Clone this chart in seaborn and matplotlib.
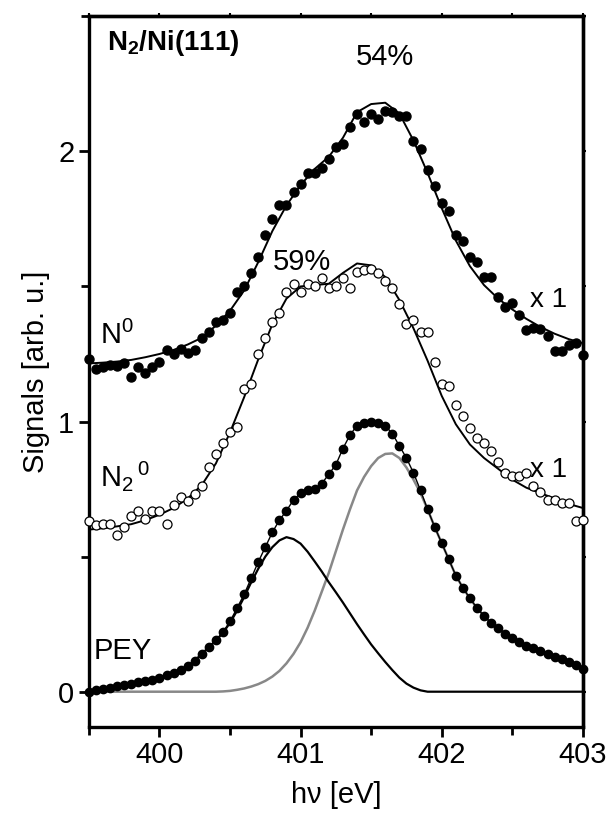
import numpy as np
import pandas as pd
import seaborn as sns
import matplotlib.pyplot as plt
from matplotlib.ticker import MultipleLocator

sns.set_style("ticks")
plt.rcParams['font.family'] = ['Liberation Sans', 'DejaVu Sans']
plt.rcParams['mathtext.fontset'] = 'custom'
plt.rcParams['mathtext.rm'] = 'Liberation Sans'
plt.rcParams['mathtext.bf'] = 'Liberation Sans:bold'
for k in ['text.color', 'axes.labelcolor', 'xtick.color', 'ytick.color', 'axes.edgecolor']:
    plt.rcParams[k] = 'black'

# photon energy grid of the measured points [eV]
energy = [399.50, 399.55, 399.60, 399.65, 399.70, 399.75, 399.80, 399.85, 399.90, 399.95,
          400.00, 400.05, 400.10, 400.15, 400.20, 400.25, 400.30, 400.35, 400.40, 400.45,
          400.50, 400.55, 400.60, 400.65, 400.70, 400.75, 400.80, 400.85, 400.90, 400.95,
          401.00, 401.05, 401.10, 401.15, 401.20, 401.25, 401.30, 401.35, 401.40, 401.45,
          401.50, 401.55, 401.60, 401.65, 401.70, 401.75, 401.80, 401.85, 401.90, 401.95,
          402.00, 402.05, 402.10, 402.15, 402.20, 402.25, 402.30, 402.35, 402.40, 402.45,
          402.50, 402.55, 402.60, 402.65, 402.70, 402.75, 402.80, 402.85, 402.90, 402.95,
          403.00]

n0_signal = [1.23, 1.195, 1.20, 1.21, 1.205, 1.217, 1.165, 1.20, 1.18, 1.20,
             1.22, 1.265, 1.25, 1.27, 1.255, 1.265, 1.31, 1.33, 1.37, 1.377,
             1.40, 1.48, 1.50, 1.55, 1.61, 1.69, 1.75, 1.80, 1.80, 1.85,
             1.88, 1.92, 1.92, 1.94, 1.97, 2.015, 2.026, 2.09, 2.14, 2.11,
             2.14, 2.12, 2.15, 2.145, 2.13, 2.13, 2.04, 2.01, 1.93, 1.87,
             1.81, 1.78, 1.69, 1.67, 1.61, 1.59, 1.535, 1.535, 1.46, 1.425,
             1.44, 1.395, 1.34, 1.347, 1.343, 1.315, 1.26, 1.26, 1.285, 1.29,
             1.245]

n2_signal = [0.63, 0.616, 0.62, 0.62, 0.58, 0.61, 0.65, 0.67, 0.64, 0.67,
             0.67, 0.62, 0.69, 0.72, 0.705, 0.73, 0.76, 0.83, 0.88, 0.92,
             0.96, 0.98, 1.12, 1.14, 1.25, 1.31, 1.37, 1.40, 1.48, 1.51,
             1.48, 1.51, 1.50, 1.53, 1.495, 1.50, 1.53, 1.495, 1.555, 1.56,
             1.565, 1.55, 1.52, 1.495, 1.435, 1.36, 1.375, 1.33, 1.33, 1.22,
             1.14, 1.13, 1.06, 1.02, 0.975, 0.94, 0.92, 0.89, 0.85, 0.81,
             0.80, 0.80, 0.81, 0.76, 0.74, 0.71, 0.71, 0.70, 0.70, 0.63,
             0.635]

pey_signal = [0.0, 0.005, 0.01, 0.015, 0.02, 0.025, 0.03, 0.035, 0.04, 0.045,
              0.052, 0.06, 0.07, 0.082, 0.095, 0.115, 0.14, 0.165, 0.19, 0.22,
              0.26, 0.31, 0.36, 0.42, 0.48, 0.535, 0.59, 0.635, 0.67, 0.71,
              0.735, 0.745, 0.75, 0.77, 0.805, 0.84, 0.90, 0.95, 0.985, 0.995,
              0.998, 0.995, 0.985, 0.955, 0.91, 0.865, 0.81, 0.745, 0.675, 0.61,
              0.55, 0.49, 0.43, 0.385, 0.345, 0.31, 0.28, 0.255, 0.235, 0.215,
              0.20, 0.185, 0.17, 0.16, 0.15, 0.14, 0.13, 0.12, 0.11, 0.10,
              0.085]

# PEY fit components on the same grid
peak1 = [0.0, 0.005, 0.01, 0.015, 0.02, 0.025, 0.03, 0.035, 0.04, 0.045,
         0.052, 0.06, 0.07, 0.082, 0.095, 0.115, 0.14, 0.165, 0.19, 0.218,
         0.255, 0.30, 0.35, 0.405, 0.455, 0.50, 0.535, 0.56, 0.572, 0.565,
         0.548, 0.518, 0.482, 0.445, 0.405, 0.368, 0.33, 0.29, 0.25, 0.212,
         0.175, 0.142, 0.11, 0.08, 0.052, 0.03, 0.015, 0.005, 0.0, 0.0,
         0.0, 0.0, 0.0, 0.0, 0.0, 0.0, 0.0, 0.0, 0.0, 0.0,
         0.0, 0.0, 0.0, 0.0, 0.0, 0.0, 0.0, 0.0, 0.0, 0.0,
         0.0]
peak2 = [0.0, 0.0, 0.0, 0.0, 0.0, 0.0, 0.0, 0.0, 0.0, 0.0,
         0.0, 0.0, 0.0, 0.0, 0.0, 0.0, 0.0, 0.0, 0.0, 0.001,
         0.003, 0.007, 0.012, 0.019, 0.028, 0.04, 0.056, 0.077, 0.105, 0.14,
         0.183, 0.237, 0.30, 0.37, 0.44, 0.52, 0.60, 0.675, 0.745, 0.795,
         0.835, 0.865, 0.88, 0.882, 0.865, 0.83, 0.785, 0.735, 0.675, 0.61,
         0.55, 0.49, 0.43, 0.385, 0.345, 0.31, 0.28, 0.255, 0.235, 0.215,
         0.20, 0.185, 0.17, 0.16, 0.15, 0.14, 0.13, 0.12, 0.11, 0.10,
         0.085]

# N0 and N2 fit curves
fit_energy = [399.5, 399.6, 399.7, 399.8, 399.9, 400.0, 400.1, 400.2, 400.3, 400.4,
              400.5, 400.6, 400.7, 400.8, 400.9, 401.0, 401.1, 401.2, 401.3, 401.4,
              401.5, 401.6, 401.7, 401.8, 401.9, 402.0, 402.1, 402.2, 402.3, 402.4,
              402.5, 402.6, 402.7, 402.8, 402.9, 403.0]
n0_fit = [1.215, 1.218, 1.222, 1.228, 1.238, 1.25, 1.265, 1.285, 1.31, 1.355,
          1.41, 1.485, 1.59, 1.705, 1.80, 1.875, 1.935, 1.98, 2.05, 2.145,
          2.175, 2.18, 2.14, 2.04, 1.92, 1.79, 1.67, 1.575, 1.505, 1.455,
          1.415, 1.38, 1.35, 1.325, 1.305, 1.29]
n2_fit = [0.60, 0.605, 0.612, 0.62, 0.635, 0.655, 0.68, 0.715, 0.765, 0.845,
          0.96, 1.09, 1.23, 1.36, 1.455, 1.50, 1.505, 1.51, 1.55, 1.585,
          1.578, 1.535, 1.45, 1.345, 1.225, 1.095, 0.99, 0.915, 0.865, 0.825,
          0.785, 0.755, 0.735, 0.715, 0.695, 0.68]

pts = pd.DataFrame({"E": energy, "N0": n0_signal, "N2": n2_signal, "PEY": pey_signal,
                    "p1": peak1, "p2": peak2})
fits = pd.DataFrame({"E": fit_energy, "N0": n0_fit, "N2": n2_fit})

fig = plt.figure(figsize=(6.09, 8.13), dpi=100)
ax = fig.add_axes([0.146, 0.106, 0.811, 0.874])

sns.lineplot(data=pts, x="E", y="p2", ax=ax, color="#888888", lw=1.8)
sns.lineplot(data=pts, x="E", y="p1", ax=ax, color="black", lw=1.6)
sns.lineplot(data=pts, x="E", y="PEY", ax=ax, color="black", lw=1.0)
sns.lineplot(data=fits, x="E", y="N0", ax=ax, color="black", lw=1.4)
sns.lineplot(data=fits, x="E", y="N2", ax=ax, color="black", lw=1.4)

ax.plot(pts["E"], pts["PEY"], "o", ms=6, color="black", clip_on=False, zorder=5)
ax.plot(pts["E"], pts["N0"], "o", ms=6.5, color="black", clip_on=False, zorder=5)
ax.plot(pts["E"], pts["N2"], "o", ms=6.5, mfc="white", mec="black", mew=0.9,
        clip_on=False, zorder=5)

ax.set_xlim(399.5, 403)
ax.set_ylim(-0.13, 2.5)
ax.xaxis.set_major_locator(MultipleLocator(1))
ax.xaxis.set_minor_locator(MultipleLocator(0.5))
ax.yaxis.set_major_locator(MultipleLocator(1))
ax.yaxis.set_minor_locator(MultipleLocator(0.5))
ax.tick_params(which="both", direction="out", width=2, labelsize=21)
ax.tick_params(which="major", length=7)
ax.tick_params(which="minor", length=6)
# tiny ticks on the top and right frame
ax2 = ax.secondary_xaxis("top")
ax2.xaxis.set_major_locator(MultipleLocator(0.5))
ax2.tick_params(length=2, width=1.5, labeltop=False)
ax3 = ax.secondary_yaxis("right")
ax3.yaxis.set_major_locator(MultipleLocator(0.5))
ax3.tick_params(length=2, width=1.5, labelright=False)
for a in (ax, ax2, ax3):
    for s in a.spines.values():
        s.set_linewidth(2.4)

ax.set_xlabel("h\u03bd [eV]", fontsize=21, labelpad=8)
ax.set_ylabel("Signals [arb. u.]", fontsize=21, labelpad=6)

ax.text(399.63, 2.40, r"$\mathbf{N_2}$/Ni(111)", fontsize=20, fontweight="bold",
        va="center", ha="left")
ax.text(401.6, 2.35, "54%", fontsize=21, ha="center", va="center")
ax.text(401.01, 1.59, "59%", fontsize=21, ha="center", va="center")
ax.text(402.76, 1.45, "x 1", fontsize=20, ha="center", va="center")
ax.text(402.76, 0.82, "x 1", fontsize=20, ha="center", va="center")
ax.text(399.58, 1.32, r"N$^0$", fontsize=21, ha="left", va="center")
ax.text(399.58, 0.80, r"N$_2$$^{\,0}$", fontsize=21, ha="left", va="center")
ax.text(399.53, 0.15, "PEY", fontsize=21, ha="left", va="center")

fig.savefig("out.png", dpi=100)
